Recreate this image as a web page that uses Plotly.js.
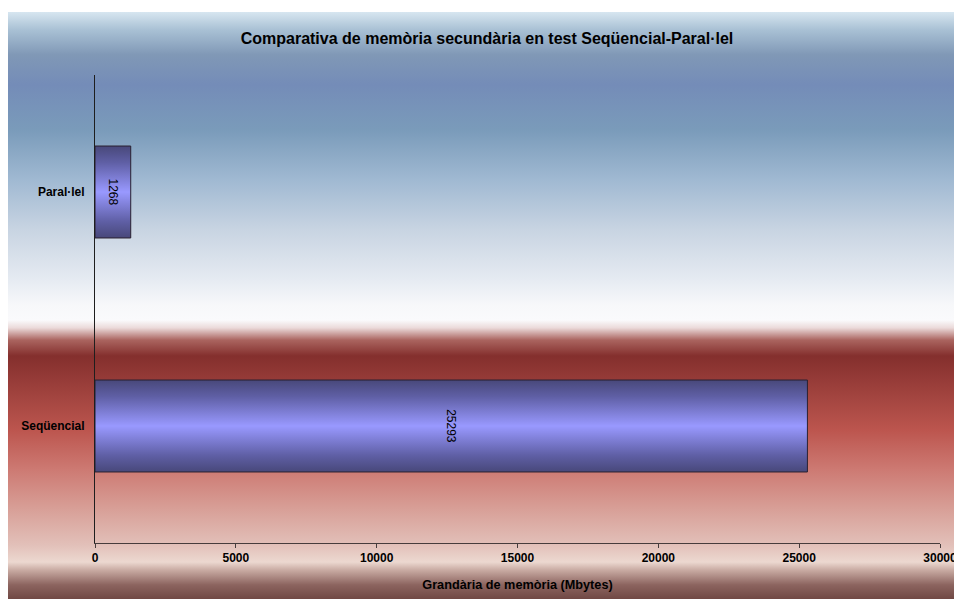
<!DOCTYPE html>
<html>
<head>
<meta charset="utf-8">
<script src="https://cdn.plot.ly/plotly-3.0.1.min.js"></script>
<style>
  html, body { margin: 0; padding: 0; background: #ffffff; }
  #frame {
    position: absolute; left: 8px; top: 12px; width: 946px; height: 587px;
    background: linear-gradient(to bottom,
      rgb(215,230,240) 0%,
      rgb(168,192,212) 3.1%,
      rgb(128,152,182) 7.3%,
      rgb(116,140,184) 12.4%,
      rgb(122,155,186) 20.1%,
      rgb(160,185,210) 28.6%,
      rgb(200,212,226) 37.1%,
      rgb(230,235,242) 45.7%,
      rgb(247,248,250) 49.9%,
      rgb(250,250,252) 52.5%,
      rgb(235,218,218) 53.8%,
      rgb(170,100,95) 55.9%,
      rgb(132,47,45) 58.6%,
      rgb(165,70,65) 66.1%,
      rgb(188,85,78) 71.2%,
      rgb(205,122,115) 78%,
      rgb(216,160,152) 84.8%,
      rgb(226,192,185) 90.8%,
      rgb(236,216,208) 93.7%,
      rgb(200,170,162) 95.1%,
      rgb(140,100,95) 97.6%,
      rgb(112,72,68) 100%);
  }
  #chart { position: absolute; left: 0; top: 0; width: 954px; height: 599px; }
</style>
</head>
<body>
<div id="frame"></div>
<div id="chart"></div>
<script>
// Memory used (Mbytes) by each test mode
const modes = ['Seqüencial', 'Paral·lel'];
const memoryMB = [25293, 1268];
const xTicks = [0, 5000, 10000, 15000, 20000, 25000, 30000];

const font = 'Liberation Sans, Arial, sans-serif';

const trace = {
  type: 'bar',
  orientation: 'h',
  y: modes,
  x: memoryMB,
  text: memoryMB.map(String),
  textposition: 'inside',
  insidetextanchor: 'middle',
  textangle: 90,
  constraintext: 'none',
  textfont: { family: font, size: 12, color: '#000000' },
  marker: { color: '#8080e0', line: { color: '#2a2030', width: 1 } },
  hoverinfo: 'skip'
};

const layout = {
  width: 954,
  height: 599,
  margin: { l: 95, r: 14, t: 75, b: 56 },
  paper_bgcolor: 'rgba(0,0,0,0)',
  plot_bgcolor: 'rgba(0,0,0,0)',
  showlegend: false,
  bargap: 0.607,
  font: { family: font, size: 12, color: '#000000' },
  title: {
    text: '<b>Comparativa de memòria secundària en test Seqüencial-Paral·lel</b>',
    font: { family: font, size: 16, color: '#000000' },
    x: 487 / 954, xanchor: 'center',
    xref: 'container', yref: 'container',
    y: 1 - 38 / 599, yanchor: 'middle'
  },
  xaxis: {
    range: [0, 30000],
    tickvals: xTicks,
    ticktext: xTicks.map(v => '<b>' + v + '</b>'),
    ticklabeloverflow: 'allow',
    ticks: 'outside', ticklen: 4, tickwidth: 1, tickcolor: '#463c3c',
    showline: true, linecolor: '#463c3c', linewidth: 1,
    showgrid: false, zeroline: false,
    tickfont: { family: font, size: 12, color: '#000000' },
    title: {
      text: '<b>Grandària de memòria (Mbytes)</b>',
      font: { family: font, size: 12.7, color: '#000000' },
      standoff: 15
    },
    fixedrange: true
  },
  yaxis: {
    type: 'category',
    categoryorder: 'array',
    categoryarray: modes,
    ticks: '',
    ticktext: modes.map(m => '<b>' + m + '</b>'),
    tickvals: modes,
    ticklabelstandoff: 7,
    showline: true, linecolor: '#1e1e1e', linewidth: 1,
    showgrid: false, zeroline: false,
    tickfont: { family: font, size: 12, color: '#000000' },
    fixedrange: true
  }
};

Plotly.newPlot('chart', [trace], layout, { displayModeBar: false, staticPlot: true }).then(gd => {
  // Shade the bars with a vertical cylinder-like gradient
  const svg = gd.querySelector('.main-svg');
  const ns = 'http://www.w3.org/2000/svg';
  let defs = svg.querySelector('defs');
  if (!defs) { defs = document.createElementNS(ns, 'defs'); svg.insertBefore(defs, svg.firstChild); }
  const grad = document.createElementNS(ns, 'linearGradient');
  grad.setAttribute('id', 'barShade');
  grad.setAttribute('x1', '0'); grad.setAttribute('y1', '0');
  grad.setAttribute('x2', '0'); grad.setAttribute('y2', '1');
  [[0, 'rgb(72,72,122)'], [0.18, 'rgb(95,95,165)'], [0.5, 'rgb(153,153,255)'],
   [0.82, 'rgb(95,95,165)'], [1, 'rgb(72,72,122)']].forEach(([o, c]) => {
    const s = document.createElementNS(ns, 'stop');
    s.setAttribute('offset', o); s.setAttribute('stop-color', c);
    grad.appendChild(s);
  });
  defs.appendChild(grad);
  gd.querySelectorAll('.bars .point path').forEach(p => { p.style.fill = 'url(#barShade)'; });
});
</script>
</body>
</html>
